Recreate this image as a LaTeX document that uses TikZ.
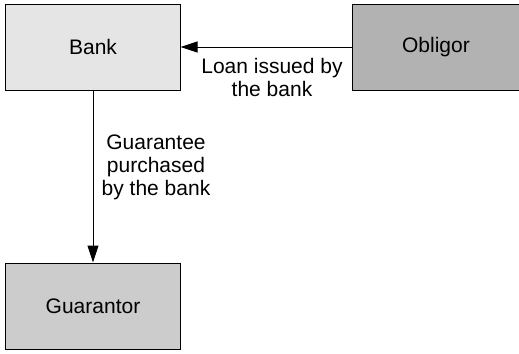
\documentclass[tikz,border=0pt]{standalone}
\usepackage{fontspec}
\setmainfont{Liberation Sans}
\usetikzlibrary{arrows.meta}
\begin{document}
\begin{tikzpicture}[x=1bp,y=-1bp,
  box/.style={draw=black,line width=1bp,minimum width=174bp,minimum height=86bp,inner sep=0pt,font=\fontsize{21bp}{23bp}\selectfont},
  lbl/.style={align=center,inner sep=0pt,font=\fontsize{21bp}{23bp}\selectfont},
  conn/.style={line width=1bp,-{Triangle[length=17bp,width=11bp]}}]
\useasboundingbox (0,0) rectangle (519,353);
\node[box,fill=black!10] (bank) at (93,47) {Bank};
\node[box,fill=black!30,minimum width=168bp] (obligor) at (436,47) {Obligor};
\node[box,fill=black!20] (guarantor) at (93,306) {Guarantor};
\draw[conn] (obligor) -- (bank);
\draw[conn] (bank) -- (guarantor);
\node[lbl] (loan) at (272,77) {Loan issued by\\the bank};
\node[lbl] (guar) at (156,167) {Guarantee\\purchased\\by the bank};
\end{tikzpicture}
\end{document}
